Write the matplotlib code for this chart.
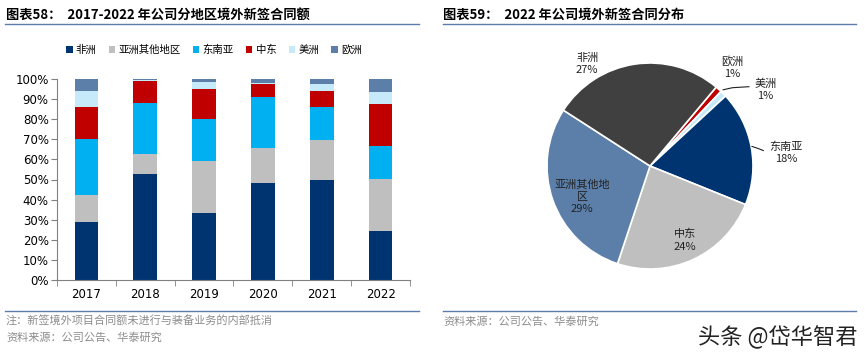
import numpy as np
import matplotlib
matplotlib.use('Agg')
import matplotlib.pyplot as plt
from matplotlib.lines import Line2D
from matplotlib.patches import Patch

plt.rcParams['font.family'] = ['Noto Sans CJK SC', 'DejaVu Sans']

# ---- data ----
years = ['2017', '2018', '2019', '2020', '2021', '2022']
regions = ['非洲', '亚洲其他地区', '东南亚', '中东', '美洲', '欧洲']
africa = [28.9, 52.7, 33.3, 48.4, 49.6, 24.4]
asia_other = [13.4, 9.8, 26.1, 17.4, 19.9, 26.0]
se_asia = [27.7, 25.7, 20.5, 25.2, 16.7, 16.1]
mideast = [16.2, 11.0, 15.1, 6.7, 7.8, 21.2]
america = [7.8, 0.2, 3.7, 0.1, 3.3, 5.8]
europe = [6.0, 0.6, 1.3, 2.2, 2.7, 6.5]
bar_colors = ['#003471', '#bfbfbf', '#00b0f0', '#c00000', '#c6eafa', '#5b7fa9']

pie_names = ['欧洲', '美洲', '东南亚', '中东', '亚洲其他地区', '非洲']
pie_values = [1, 1, 18, 24, 29, 27]
pie_colors = ['#c00000', '#c6eafa', '#003471', '#bfbfbf', '#5b7fa9', '#404040']
pie_labels = ['欧洲\n1%', '美洲\n1%', '东南亚\n18%', '中东\n24%', '亚洲其他地\n区\n29%', '非洲\n27%']
pie_label_pos = [(0.80, 0.96), (1.12, 0.74), (1.32, 0.13), (0.34, -0.72), (-0.66, -0.30), (-0.61, 0.99)]

W, H = 865, 355
fig = plt.figure(figsize=(W / 100, H / 100), dpi=100)


def fx(px):
    return px / W


def fy(py):
    return 1 - py / H


line_col = '#5a7bab'
grey_txt = '#8c8c8c'

# ---- titles and rules ----
fig.text(fx(6), fy(15), '图表58：  2017-2022 年公司分地区境外新签合同额', fontsize=9.5,
         fontweight='bold', va='center', ha='left')
fig.text(fx(443), fy(15), '图表59：  2022 年公司境外新签合同分布', fontsize=9.5,
         fontweight='bold', va='center', ha='left')
for x0, x1 in [(5, 419), (443, 856)]:
    fig.add_artist(Line2D([fx(x0), fx(x1)], [fy(24), fy(24)], color=line_col, lw=1))
    fig.add_artist(Line2D([fx(x0), fx(x1)], [fy(311), fy(311)], color=line_col, lw=1))

fig.text(fx(6), fy(321), '注：新签境外项目合同额未进行与装备业务的内部抵消', fontsize=8,
         color=grey_txt, va='center', ha='left')
fig.text(fx(6), fy(338), '资料来源：公司公告、华泰研究', fontsize=8,
         color=grey_txt, va='center', ha='left')
fig.text(fx(443), fy(322), '资料来源：公司公告、华泰研究', fontsize=8,
         color=grey_txt, va='center', ha='left')
fig.text(fx(857), fy(337), '头条 @岱华智君', fontsize=16, color='#222222',
         va='center', ha='right')

# ---- stacked bar chart ----
ax = fig.add_axes([fx(57), fy(280), fx(410) - fx(57), fy(79) - fy(280)])
x = np.arange(len(years))
series = [africa, asia_other, se_asia, mideast, america, europe]
bottom = np.zeros(len(years))
for name, vals, col in zip(regions, series, bar_colors):
    ax.bar(x, vals, width=0.4, bottom=bottom, color=col, label=name, linewidth=0)
    bottom += np.array(vals)

ax.set_xlim(-0.5, len(years) - 0.5)
ax.set_ylim(0, 100)
ax.set_yticks(np.arange(0, 101, 10))
ax.set_yticklabels([f'{v}%' for v in range(0, 101, 10)], fontsize=8.5, family='DejaVu Sans')
ax.set_xticks(x)
ax.set_xticklabels(years, fontsize=8.5, family='DejaVu Sans')
ax.set_xticks(np.arange(-0.5, len(years)), minor=True)
ax.tick_params(axis='x', which='major', length=0, pad=6)
ax.tick_params(axis='x', which='minor', length=4, color='#808080')
ax.tick_params(axis='y', length=4, color='#808080', pad=2)
for s in ['top', 'right']:
    ax.spines[s].set_visible(False)
for s in ['left', 'bottom']:
    ax.spines[s].set_color('#808080')

handles = [Patch(facecolor=c, edgecolor='none') for c in bar_colors]
fig.legend(handles, regions, loc='center', bbox_to_anchor=(fx(214), fy(50)), ncol=6,
           frameon=False, fontsize=7.5, handlelength=0.6, handleheight=0.6,
           handletextpad=0.3, columnspacing=1.2, borderpad=0)

# ---- pie chart ----
r = 103
pax = fig.add_axes([fx(650 - r), fy(166 + r), fx(2 * r), fy(166 - r) - fy(166 + r)])
pax.pie(pie_values, colors=pie_colors, startangle=50, counterclock=False,
        wedgeprops=dict(edgecolor='white', linewidth=1.2), radius=1)
pax.set_xlim(-1, 1)
pax.set_ylim(-1, 1)
pax.set_aspect('equal')
pax.axis('off')

for lab, (lx, ly) in zip(pie_labels, pie_label_pos):
    pax.text(lx, ly, lab, ha='center', va='center', fontsize=8, linespacing=1.3,
             clip_on=False, color='#222222')

# leader lines for small / outside labels
pax.plot([0.71, 0.80, 0.96], [0.74, 0.76, 0.77], color='#222222', lw=0.8, clip_on=False)
pax.plot([0.99, 1.05, 1.10], [0.19, 0.17, 0.15], color='#222222', lw=0.8, clip_on=False)

fig.savefig('out.png', dpi=100)
